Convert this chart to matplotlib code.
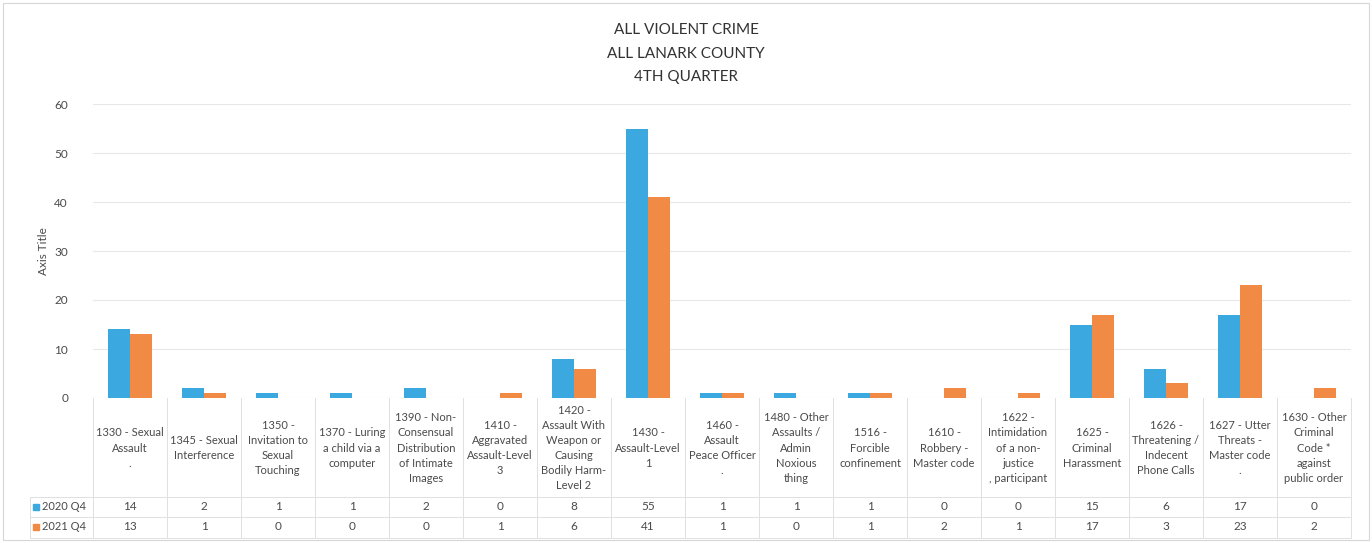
import numpy as np
import matplotlib.pyplot as plt
from matplotlib.transforms import blended_transform_factory
from matplotlib.patches import Rectangle

categories = [
    "1330 - Sexual\nAssault\n.",
    "1345 - Sexual\nInterference",
    "1350 -\nInvitation to\nSexual\nTouching",
    "1370 - Luring\na child via a\ncomputer",
    "1390 - Non-\nConsensual\nDistribution\nof Intimate\nImages",
    "1410 -\nAggravated\nAssault-Level\n3",
    "1420 -\nAssault With\nWeapon or\nCausing\nBodily Harm-\nLevel 2",
    "1430 -\nAssault-Level\n1",
    "1460 -\nAssault\nPeace Officer\n.",
    "1480 - Other\nAssaults /\nAdmin\nNoxious\nthing",
    "1516 -\nForcible\nconfinement",
    "1610 -\nRobbery -\nMaster code",
    "1622 -\nIntimidation\nof a non-\njustice\n, participant",
    "1625 -\nCriminal\nHarassment",
    "1626 -\nThreatening /\nIndecent\nPhone Calls",
    "1627 - Utter\nThreats -\nMaster code\n.",
    "1630 - Other\nCriminal\nCode *\nagainst\npublic order",
]
q4_2020 = [14, 2, 1, 1, 2, 0, 8, 55, 1, 1, 1, 0, 0, 15, 6, 17, 0]
q4_2021 = [13, 1, 0, 0, 0, 1, 6, 41, 1, 0, 1, 2, 1, 17, 3, 23, 2]
series_names = ["2020 Q4", "2021 Q4"]
title_lines = ["ALL VIOLENT CRIME", "ALL LANARK COUNTY", "4TH QUARTER"]

blue = "#3ba8e0"
orange = "#f08a45"
grid = "#e8e8e8"
text_c = "#4a4a4a"

W, H = 1372, 543
plt.rcParams["font.family"] = ["Lato", "DejaVu Sans"]

fig = plt.figure(figsize=(W / 100, H / 100), dpi=100)

def fy(py):
    return 1 - py / H

def fx(px):
    return px / W

left_px, right_px, top_px, zero_px = 93, 1351, 104, 398
ax = fig.add_axes([fx(left_px), fy(zero_px), (right_px - left_px) / W, (zero_px - top_px) / H])

x = np.arange(len(categories))
w = 0.3
ax.bar(x - w / 2, q4_2020, w, color=blue, zorder=3)
ax.bar(x + w / 2, q4_2021, w, color=orange, zorder=3)
ax.set_xlim(-0.5, len(categories) - 0.5)
ax.set_ylim(0, 60)
ax.set_yticks(range(0, 61, 10))
ax.set_xticks([])
ax.yaxis.grid(True, color=grid, linewidth=0.8, zorder=0)
ax.tick_params(axis="y", length=0, pad=18, labelsize=8.5, labelcolor=text_c)
for s in ax.spines.values():
    s.set_visible(False)
ax.set_ylabel("Axis Title", fontsize=8.5, color=text_c, labelpad=4)

# title
for i, t in enumerate(title_lines):
    fig.text(fx(686), fy(30 + i * 23.5), t, ha="center", va="center",
             fontsize=11, color="#333333")

# data table
tr = blended_transform_factory(ax.transData, fig.transFigure)
line_c = "#e0e0e0"
for k in range(len(categories) + 1):
    ax.plot([k - 0.5, k - 0.5], [fy(398), fy(538)], transform=tr, color=line_c,
            linewidth=0.7, clip_on=False)
for py in [497, 517, 538]:
    fig.add_artist(plt.Line2D([fx(30), fx(right_px)], [fy(py), fy(py)], color=line_c,
                              linewidth=0.7))
fig.add_artist(plt.Line2D([fx(30), fx(30)], [fy(497), fy(538)], color=line_c, linewidth=0.7))

for i, lab in enumerate(categories):
    ax.text(i, fy(448), lab, transform=tr, ha="center", va="center", fontsize=8,
            color=text_c, linespacing=1.45, multialignment="center", clip_on=False)
    ax.text(i, fy(507), str(q4_2020[i]), transform=tr, ha="center", va="center",
            fontsize=8.5, color=text_c, clip_on=False)
    ax.text(i, fy(527), str(q4_2021[i]), transform=tr, ha="center", va="center",
            fontsize=8.5, color=text_c, clip_on=False)

for py, col, name in zip([507, 527], [blue, orange], series_names):
    fig.add_artist(Rectangle((fx(33), fy(py) - 3 / H), 6 / W, 6 / H, color=col))
    fig.text(fx(42), fy(py), name, ha="left", va="center", fontsize=8, color=text_c)

# outer chart border
fig.add_artist(Rectangle((fx(3), fy(540)), (W - 6) / W, 537 / H, fill=False,
                         edgecolor="#d6d6d6", linewidth=0.8))

fig.savefig("out.png", dpi=100)
